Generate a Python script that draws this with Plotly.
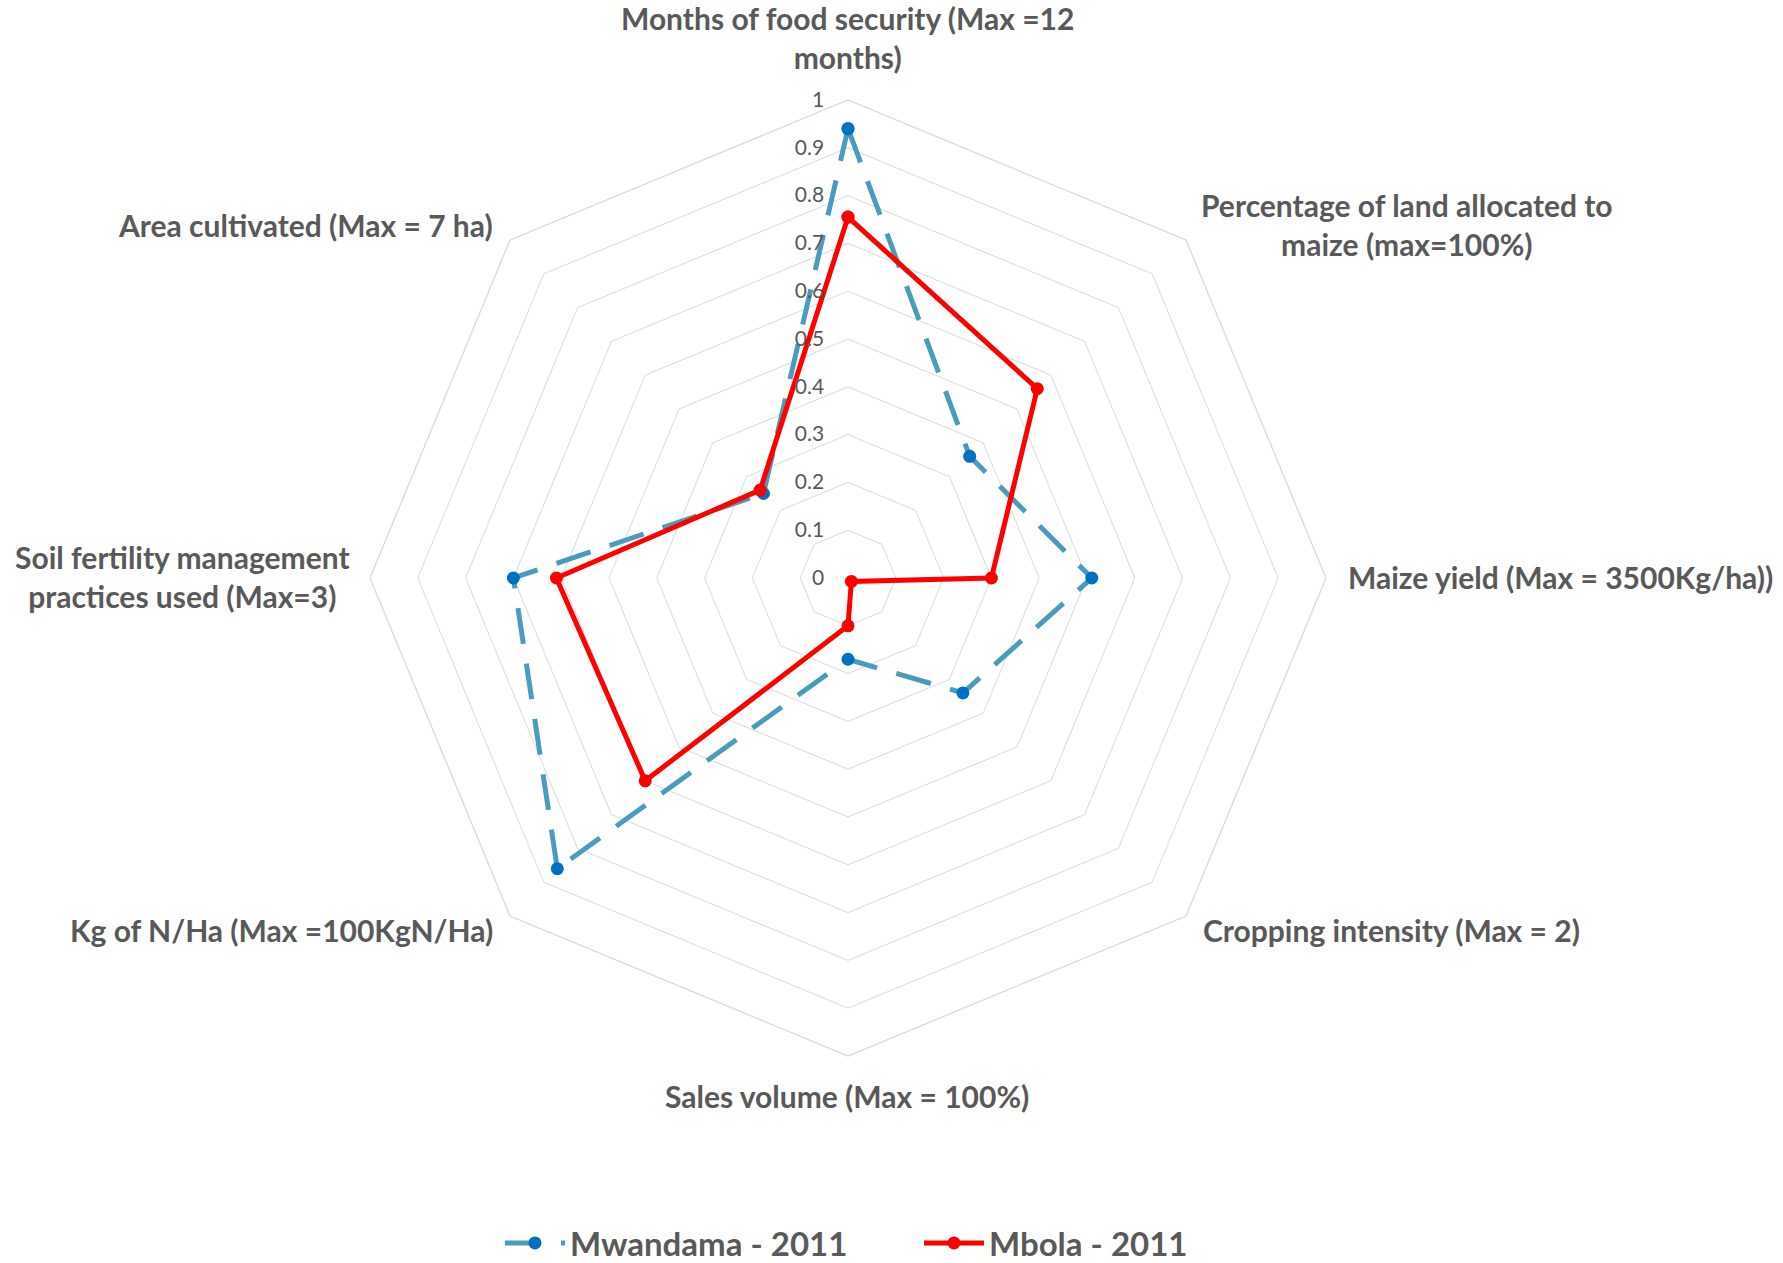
import plotly.graph_objects as go

# Indicator axes (clockwise from the top) and normalised scores (0-1)
categories = [
    "Months of food security (Max =12 months)",
    "Percentage of land allocated to maize (max=100%)",
    "Maize yield (Max = 3500Kg/ha))",
    "Cropping intensity (Max = 2)",
    "Sales volume (Max = 100%)",
    "Kg of N/Ha (Max =100KgN/Ha)",
    "Soil fertility management practices used (Max=3)",
    "Area cultivated (Max = 7 ha)",
]
mwandama_2011 = [0.94, 0.36, 0.51, 0.34, 0.17, 0.86, 0.70, 0.25]
mbola_2011 = [0.755, 0.56, 0.30, 0.01, 0.10, 0.60, 0.61, 0.26]

# Label text as printed around the chart (line breaks where the text wraps)
axis_label_text = [
    "Months of food security (Max =12<br>months)",
    "Percentage of land allocated to<br>maize (max=100%)",
    "Maize yield (Max = 3500Kg/ha))",
    "Cropping intensity (Max = 2)",
    "Sales volume (Max = 100%)",
    "Kg of N/Ha (Max =100KgN/Ha)",
    "Soil fertility management<br>practices used (Max=3)",
    "Area cultivated (Max = 7 ha)",
]

W, H = 1783, 1263
GREY = "#595959"
FONT = "Lato"

def closed(vals):
    return list(vals) + [vals[0]]

fig = go.Figure()

fig.add_trace(go.Scatterpolar(
    r=closed(mwandama_2011),
    theta=closed(categories),
    mode="lines+markers",
    name="Mwandama - 2011",
    line=dict(color="#4a9bbc", width=5, dash="36px,20px"),
    marker=dict(color="#0070c0", size=13),
))

fig.add_trace(go.Scatterpolar(
    r=closed(mbola_2011),
    theta=closed(categories),
    mode="lines+markers",
    name="Mbola - 2011",
    line=dict(color="#ff0000", width=5),
    marker=dict(color="#ff0000", size=13),
))

# Polar area: centre (848, 578) px, radius 478 px
cx, cy, rad = 848, 578, 478
dom_x = [(cx - rad) / W, (cx + rad) / W]
dom_y = [(H - cy - rad) / H, (H - cy + rad) / H]

fig.update_layout(
    width=W,
    height=H,
    margin=dict(l=0, r=0, t=0, b=0, autoexpand=False),
    paper_bgcolor="white",
    plot_bgcolor="white",
    font=dict(family=FONT, color=GREY),
    polar=dict(
        domain=dict(x=dom_x, y=dom_y),
        bgcolor="white",
        gridshape="linear",
        radialaxis=dict(
            range=[0, 1],
            dtick=0.1,
            angle=90,
            side="counterclockwise",
            showline=False,
            ticks="outside",
            ticklen=16,
            tickcolor="rgba(0,0,0,0)",
            gridcolor="#d9d9d9",
            gridwidth=1.3,
            tickfont=dict(family=FONT, size=21, color=GREY),
            tickangle=90,
        ),
        angularaxis=dict(
            direction="clockwise",
            rotation=90,
            showgrid=False,
            showticklabels=False,
            ticks="",
            showline=True,
            linecolor="#d9d9d9",
            linewidth=1.3,
        ),
    ),
    showlegend=True,
    legend=dict(
        orientation="h",
        x=500 / W,
        xanchor="left",
        y=(H - 1243) / H,
        yanchor="middle",
        font=dict(family=FONT, size=33, color=GREY, weight="bold"),
        entrywidth=344,
        itemwidth=60,
        tracegroupgap=0,
    ),
)

# Axis captions placed around the octagon: (x px, y px, xanchor)
label_pos = [
    (847, 38, "center"),
    (1407, 224, "center"),
    (1346, 577, "left"),
    (1201, 930, "left"),
    (847, 1096, "center"),
    (495, 930, "right"),
    (182, 576, "center"),
    (495, 225, "right"),
]
for text, (px, py, xa) in zip(axis_label_text, label_pos):
    fig.add_annotation(
        x=px / W, y=(H - py) / H,
        xref="paper", yref="paper",
        xanchor=xa, yanchor="middle",
        text=text,
        showarrow=False,
        align="center",
        font=dict(family=FONT, size=30, color=GREY, weight="bold"),
    )

fig.write_html("out.html")
